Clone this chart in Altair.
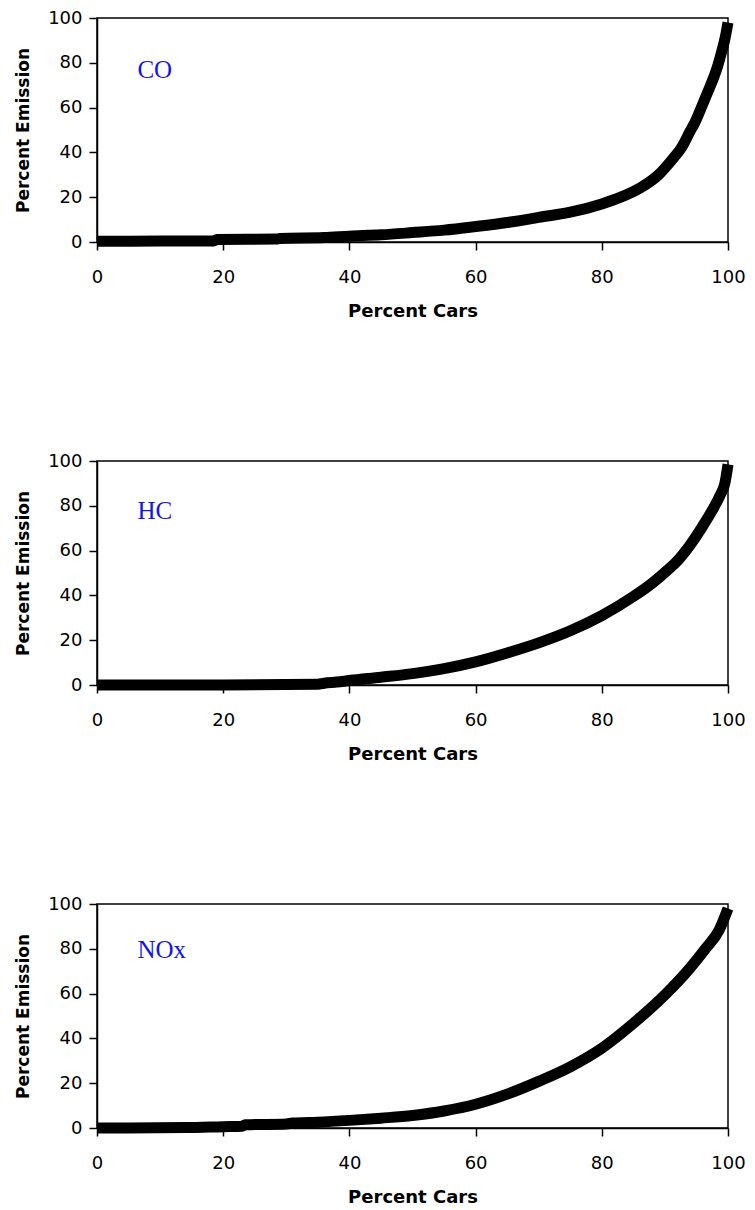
import altair as alt
import pandas as pd

# ---- data ----
co_x = [0, 10, 18.5, 19, 28.5, 29, 36, 40, 45, 50, 55, 60, 65, 68, 70, 75, 80, 83, 86,
        89, 90, 91.5, 92.6, 93.1, 94, 94.7, 95.7, 96.8, 97.8, 98.3, 99, 99.5, 100]
co_y = [0.3, 0.4, 0.5, 1.1, 1.3, 1.6, 2.0, 2.6, 3.2, 4.2, 5.3, 6.9, 8.7, 10, 11, 13.3, 17, 20, 24,
        30, 33, 38, 42, 44.5, 49.5, 53, 59.5, 67, 74, 78, 85, 90.5, 98]

hc_x = [0, 20, 35, 36, 38, 40, 45, 50, 55, 60, 65, 70, 75, 80, 85, 88, 90.5, 92, 94, 96,
        97.5, 98.8, 99.5, 100]
hc_y = [0, 0, 0.3, 0.8, 1.3, 2, 3.5, 5.1, 7.3, 10.3, 14.3, 18.8, 24.2, 31, 39.5, 45.5, 51.5,
        55.5, 62.5, 71, 78, 85, 90, 98.5]

nox_x = [0, 14, 20, 23, 23.5, 30, 31, 35, 40, 45, 50, 55, 60, 65, 70, 75, 80, 85, 90, 94,
         96.5, 98.6, 100]
nox_y = [0, 0.2, 0.6, 0.8, 1.4, 1.8, 2.2, 2.6, 3.4, 4.4, 5.6, 7.6, 10.6, 15.1, 20.8, 27.3,
         35.6, 46.7, 59.4, 71.5, 80.3, 88.4, 98]

pollutants = ["CO", "HC", "NOx"]
label_x = [6.4, 6.4, 6.4]
label_y = [73.2, 74.1, 76.0]
ticks = [0, 20, 40, 60, 80, 100]
x_title = "Percent Cars"
y_title = "Percent Emission"

series = [(co_x, co_y), (hc_x, hc_y), (nox_x, nox_y)]


def panel(i):
    xs, ys = series[i]
    df = pd.DataFrame({"x": xs, "y": ys})
    xenc = alt.X("x:Q", scale=alt.Scale(domain=[0, 100], nice=False),
                 axis=alt.Axis(values=ticks, title=x_title, grid=False, labelFlush=False))
    yenc = alt.Y("y:Q", scale=alt.Scale(domain=[0, 100], nice=False),
                 axis=alt.Axis(values=ticks, title=y_title, grid=False, labelFlush=False))
    line = alt.Chart(df).mark_line(color="black", strokeWidth=11, strokeJoin="round",
                                   interpolate="monotone").encode(x=xenc, y=yenc)
    lab_df = pd.DataFrame({"x": [label_x[i]], "y": [label_y[i]], "t": [pollutants[i]]})
    lab = alt.Chart(lab_df).mark_text(
        align="left", baseline="alphabetic", font="Liberation Serif",
        fontSize=25, color="#1414f0").encode(
        x=alt.X("x:Q", scale=alt.Scale(domain=[0, 100], nice=False)),
        y=alt.Y("y:Q", scale=alt.Scale(domain=[0, 100], nice=False)),
        text="t:N")
    return alt.layer(line, lab).properties(width=631, height=224)


chart = alt.vconcat(panel(0), panel(1), panel(2), spacing=130).properties(
    padding={"left": 5, "top": 0, "right": 0, "bottom": 0}
).configure_view(
    stroke="black", strokeWidth=1.5
).configure_axis(
    domainColor="black", domainWidth=1.5, tickColor="black", tickWidth=1.5, tickSize=8,
    labelColor="black", labelFont="DejaVu Sans", labelFontSize=18,
    titleColor="black", titleFont="DejaVu Sans", titleFontWeight="bold"
).configure_axisX(
    labelPadding=18, titlePadding=16, titleFontSize=18
).configure_axisY(
    labelPadding=7, titlePadding=15, titleFontSize=17
)

chart.save("out.html", embed_options={"renderer": "svg", "actions": False})
